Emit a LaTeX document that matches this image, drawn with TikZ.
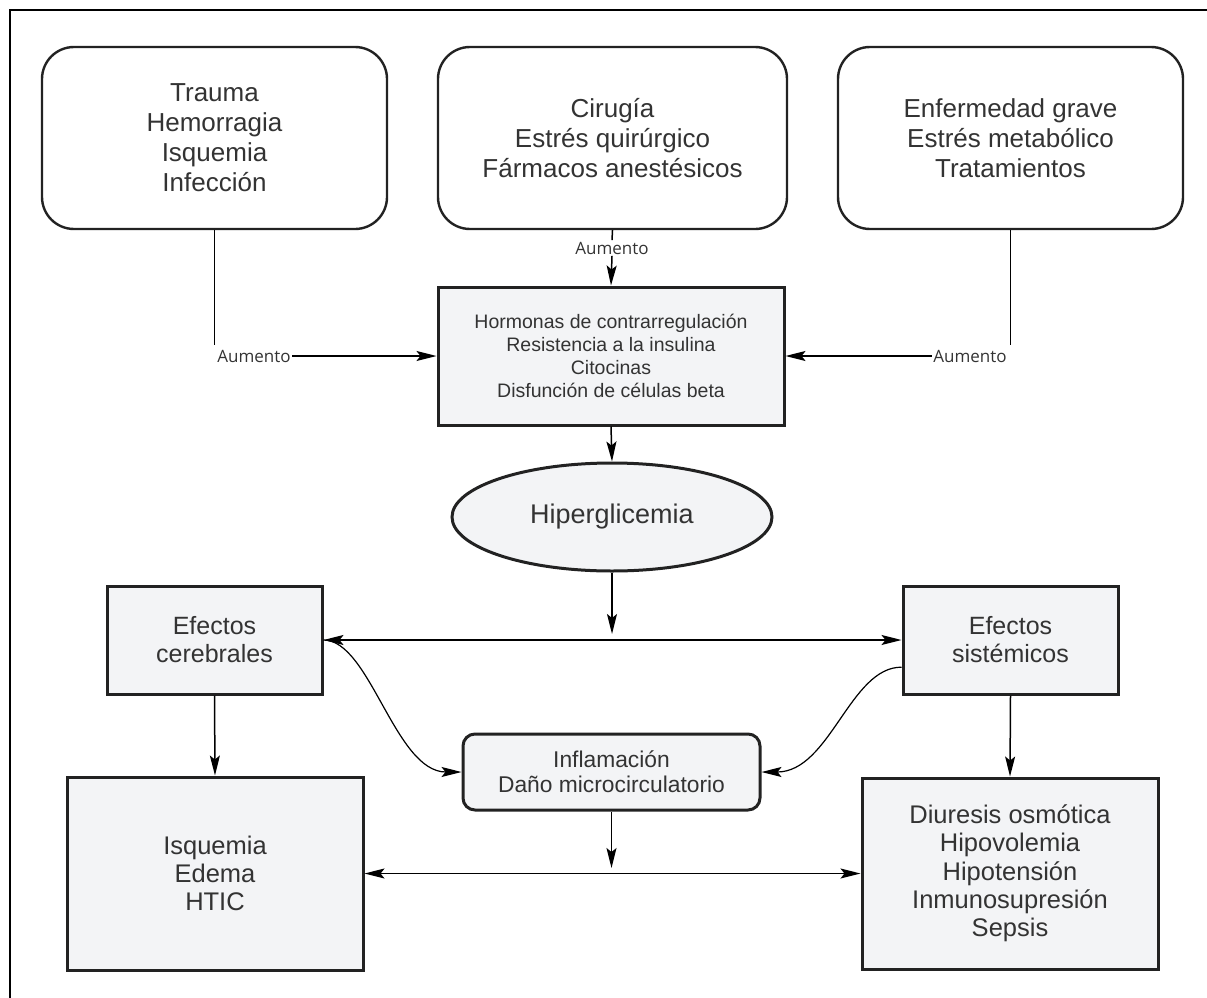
\documentclass[tikz,border=0pt]{standalone}
\usepackage{fontspec}
\setmainfont{Liberation Sans}
\newfontfamily\lblfont{Open Sans}
\usetikzlibrary{arrows.meta,shapes.geometric}
\definecolor{ink}{HTML}{333333}
\definecolor{edge}{HTML}{222222}
\definecolor{boxfill}{HTML}{F3F4F6}
\begin{document}
\begin{tikzpicture}[x=1pt,y=-1pt,
  >={Stealth[length=20pt,width=10pt,inset=4pt]},
  srcbox/.style={draw=edge,line width=2.4pt,fill=white,rounded corners=32pt,
    align=center,text=ink,inner sep=0pt,font=\fontsize{26}{30}\selectfont},
  graybox/.style={draw=edge,line width=3pt,fill=boxfill,align=center,text=ink,inner sep=0pt},
  lbl/.style={font=\lblfont\fontsize{17}{20}\selectfont,text=ink,inner sep=1.5pt},
  conn/.style={draw=black,line width=1.5pt},
  curve/.style={draw=black,line width=1.2pt}]
\useasboundingbox (0,0) rectangle (1207,998);
% outer frame (left and top edges)
\draw[line width=2pt] (10,1005) -- (10,10) -- (1215,10);

% source boxes
\node[srcbox,minimum width=345pt,minimum height=182pt] (t1) at (214.5,138)
  {Trauma\\Hemorragia\\Isquemia\\Infección};
\node[srcbox,minimum width=349pt,minimum height=182pt] (t2) at (612.5,138)
  {Cirugía\\Estrés quirúrgico\\Fármacos anestésicos};
\node[srcbox,minimum width=345pt,minimum height=182pt] (t3) at (1010.5,138)
  {Enfermedad grave\\Estrés metabólico\\Tratamientos};

% mechanisms
\node[graybox,minimum width=346pt,minimum height=138pt,
  font=\fontsize{19.5}{23}\selectfont] (mid) at (611,356)
  {Hormonas de contrarregulación\\Resistencia a la insulina\\Citocinas\\Disfunción de células beta};

% increase labels
\node[lbl] (a1) at (254,356) {Aumento};
\node[lbl] (a2) at (612,248) {Aumento};
\node[lbl] (a3) at (970,356) {Aumento};
\coordinate (k1) at (214.5,345);
\coordinate (k3) at (1010.5,345);

\draw[conn] (t1.south) -- (k1);
\draw[conn] (t3.south) -- (k3);
\draw[conn] (t2.south) -- (a2.north);
\draw[conn,->] (a1.east) -- (mid.west);
\draw[conn,->] (a3.west) -- (mid.east);
\draw[conn,->] (a2.south) -- (mid.north);

% hyperglycemia
\node[draw=edge,line width=3pt,fill=boxfill,ellipse,minimum width=320pt,minimum height=108pt,
  inner sep=0pt,text=ink,font=\fontsize{27}{30}\selectfont] (hip) at (612,517) {Hiperglicemia};
\draw[conn,->] (mid.south) -- (hip.north);

% effects
\node[graybox,minimum width=215pt,minimum height=108pt,font=\fontsize{25}{28}\selectfont]
  (cer) at (214.5,640) {Efectos\\cerebrales};
\node[graybox,minimum width=215pt,minimum height=108pt,font=\fontsize{25}{28}\selectfont]
  (sis) at (1010.5,640) {Efectos\\sistémicos};
\coordinate (j1) at (612,634);
\draw[conn,<->] (cer.east) -- (sis.west);
\draw[conn,->] (hip.south) -- (j1);

% inflammation
\node[graybox,rounded corners=12pt,minimum width=297pt,minimum height=76pt,
  font=\fontsize{22.8}{25}\selectfont] (inf) at (611.5,772)
  {Inflamación\\Daño microcirculatorio};
\draw[curve,->] (cer.east) .. controls (370,640) and (395,772) .. (inf.west);
\draw[curve,->] (sis.194) .. controls (850,667) and (830,772) .. (inf.east);

% outcomes
\node[graybox,minimum width=296pt,minimum height=193pt,font=\fontsize{25.5}{28.3}\selectfont]
  (isq) at (215,873.5) {Isquemia\\Edema\\HTIC};
\node[graybox,minimum width=296pt,minimum height=191pt,font=\fontsize{25.5}{28.3}\selectfont]
  (diu) at (1010,873.5) {Diuresis osmótica\\Hipovolemia\\Hipotensión\\Inmunosupresión\\Sepsis};
\draw[conn,->] (cer.south) -- (isq.north);
\draw[conn,->] (sis.south) -- (diu.north);
\coordinate (j2) at (611.5,868);
\draw[conn,<->] (isq.east) -- (diu.west);
\draw[conn,->] (inf.south) -- (j2);
\end{tikzpicture}
\end{document}
